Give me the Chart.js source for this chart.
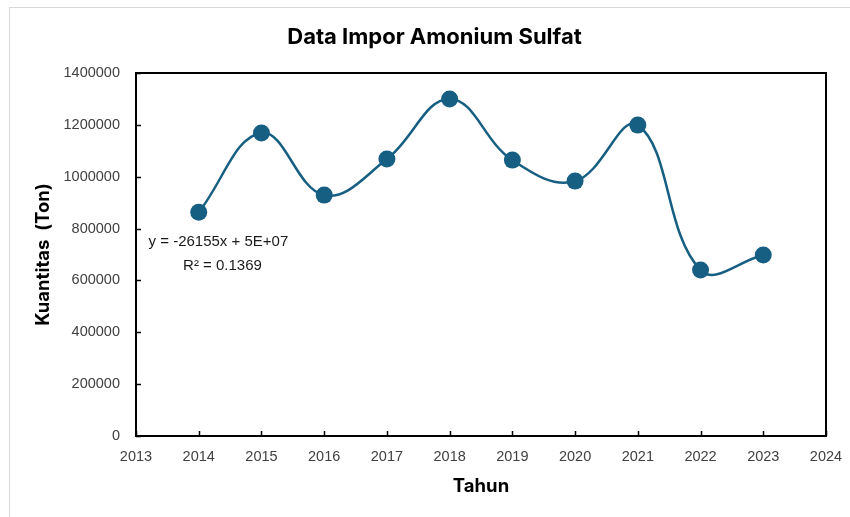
<!DOCTYPE html>
<html>
<head>
<meta charset="utf-8">
<script src="https://cdn.jsdelivr.net/npm/chart.js@4"></script>
<style>
  html, body { margin: 0; padding: 0; background: #fff; overflow: hidden; }
  #frame { position: absolute; left: 9px; top: 7px; width: 900px; height: 600px; border: 1px solid #d9d9d9; }
  #wrap { position: absolute; left: 0; top: 0; width: 856px; height: 517px; }
</style>
</head>
<body>
<div id="frame"></div>
<div id="wrap"><canvas id="importChart" width="856" height="517"></canvas></div>
<script>
// Data
const years = [2014, 2015, 2016, 2017, 2018, 2019, 2020, 2021, 2022, 2023];
const quantities = [863000, 1169000, 929000, 1068000, 1300000, 1064000, 983000, 1199000, 640000, 698000];
const trendLabel = ['y = -26155x + 5E+07', 'R² = 0.1369'];

const lineColor = '#175f82';
const textColor = '#404040';

// Frame round the plot area plus inward tick marks, as Excel draws them
const frameAndTicks = {
    id: 'frameAndTicks',
    afterDraw(chart) {
        const { ctx, chartArea: a, scales: { x, y } } = chart;
        ctx.save();
        ctx.strokeStyle = '#000';
        ctx.lineWidth = 2;
        ctx.strokeRect(a.left, a.top, a.right - a.left, a.bottom - a.top);
        ctx.lineWidth = 1.5;
        ctx.beginPath();
        x.ticks.forEach(t => {
            const px = Math.round(x.getPixelForValue(t.value)) + 0.5;
            ctx.moveTo(px, a.bottom);
            ctx.lineTo(px, a.bottom - 5);
        });
        y.ticks.forEach(t => {
            const py = Math.round(y.getPixelForValue(t.value)) + 0.5;
            ctx.moveTo(a.left, py);
            ctx.lineTo(a.left + 5, py);
        });
        ctx.stroke();

        // trendline equation label
        ctx.fillStyle = '#1a1a1a';
        ctx.font = '15px "Liberation Sans", Arial, sans-serif';
        ctx.textBaseline = 'middle';
        ctx.textAlign = 'left';
        ctx.fillText(trendLabel[0], x.getPixelForValue(2013.2), y.getPixelForValue(750000));
        ctx.fillText(trendLabel[1], x.getPixelForValue(2013.75), y.getPixelForValue(655000));
        ctx.restore();
    }
};

const ctx = document.getElementById('importChart').getContext('2d');

const importChart = new Chart(ctx, {
    type: 'line',
    data: {
        datasets: [{
            label: 'Kuantitas',
            data: years.map((yr, i) => ({ x: yr, y: quantities[i] })),
            borderColor: lineColor,
            backgroundColor: lineColor,
            borderWidth: 2.5,
            pointRadius: 8.5,
            pointBackgroundColor: lineColor,
            pointBorderWidth: 0,
            tension: 0.4,
            fill: false
        }]
    },
    options: {
        responsive: false,
        animation: false,
        // left padding shifts the centred chart title to where Excel puts it
        layout: { padding: { left: 43, right: 30, top: 0, bottom: 0 } },
        scales: {
            x: {
                type: 'linear',
                min: 2013,
                max: 2024,
                ticks: {
                    stepSize: 1,
                    color: textColor,
                    padding: 12,
                    font: { family: '"Liberation Sans", Arial, sans-serif', size: 14.5 },
                    callback: v => String(v),
                    maxRotation: 0
                },
                grid: { display: false, drawTicks: false },
                border: { display: false },
                title: {
                    display: true,
                    text: 'Tahun',
                    color: '#000',
                    font: { family: 'Inter, "Open Sans", sans-serif', size: 18.5, weight: 'bold' },
                    padding: { top: 0, bottom: 19 }
                },
                afterFit(scale) { scale.height = 81; }
            },
            y: {
                min: 0,
                max: 1400000,
                ticks: {
                    stepSize: 200000,
                    color: textColor,
                    padding: 16,
                    font: { family: '"Liberation Sans", Arial, sans-serif', size: 14.5 },
                    callback: v => String(v)
                },
                grid: { display: false, drawTicks: false },
                border: { display: false },
                title: {
                    display: true,
                    text: 'Kuantitas  (Ton)',
                    color: '#000',
                    font: { family: 'Inter, "Open Sans", sans-serif', size: 18.5, weight: 'bold' },
                    padding: { top: -11, bottom: 0 }
                },
                afterFit(scale) { scale.width = 93; }
            }
        },
        plugins: {
            legend: { display: false },
            tooltip: { enabled: false },
            title: {
                display: true,
                text: 'Data Impor Amonium Sulfat',
                color: '#000',
                font: { family: 'Inter, "Open Sans", sans-serif', size: 22, weight: 'bold' },
                padding: { top: 24, bottom: 22.6 }
            }
        }
    },
    plugins: [frameAndTicks]
});
</script>
</body>
</html>
